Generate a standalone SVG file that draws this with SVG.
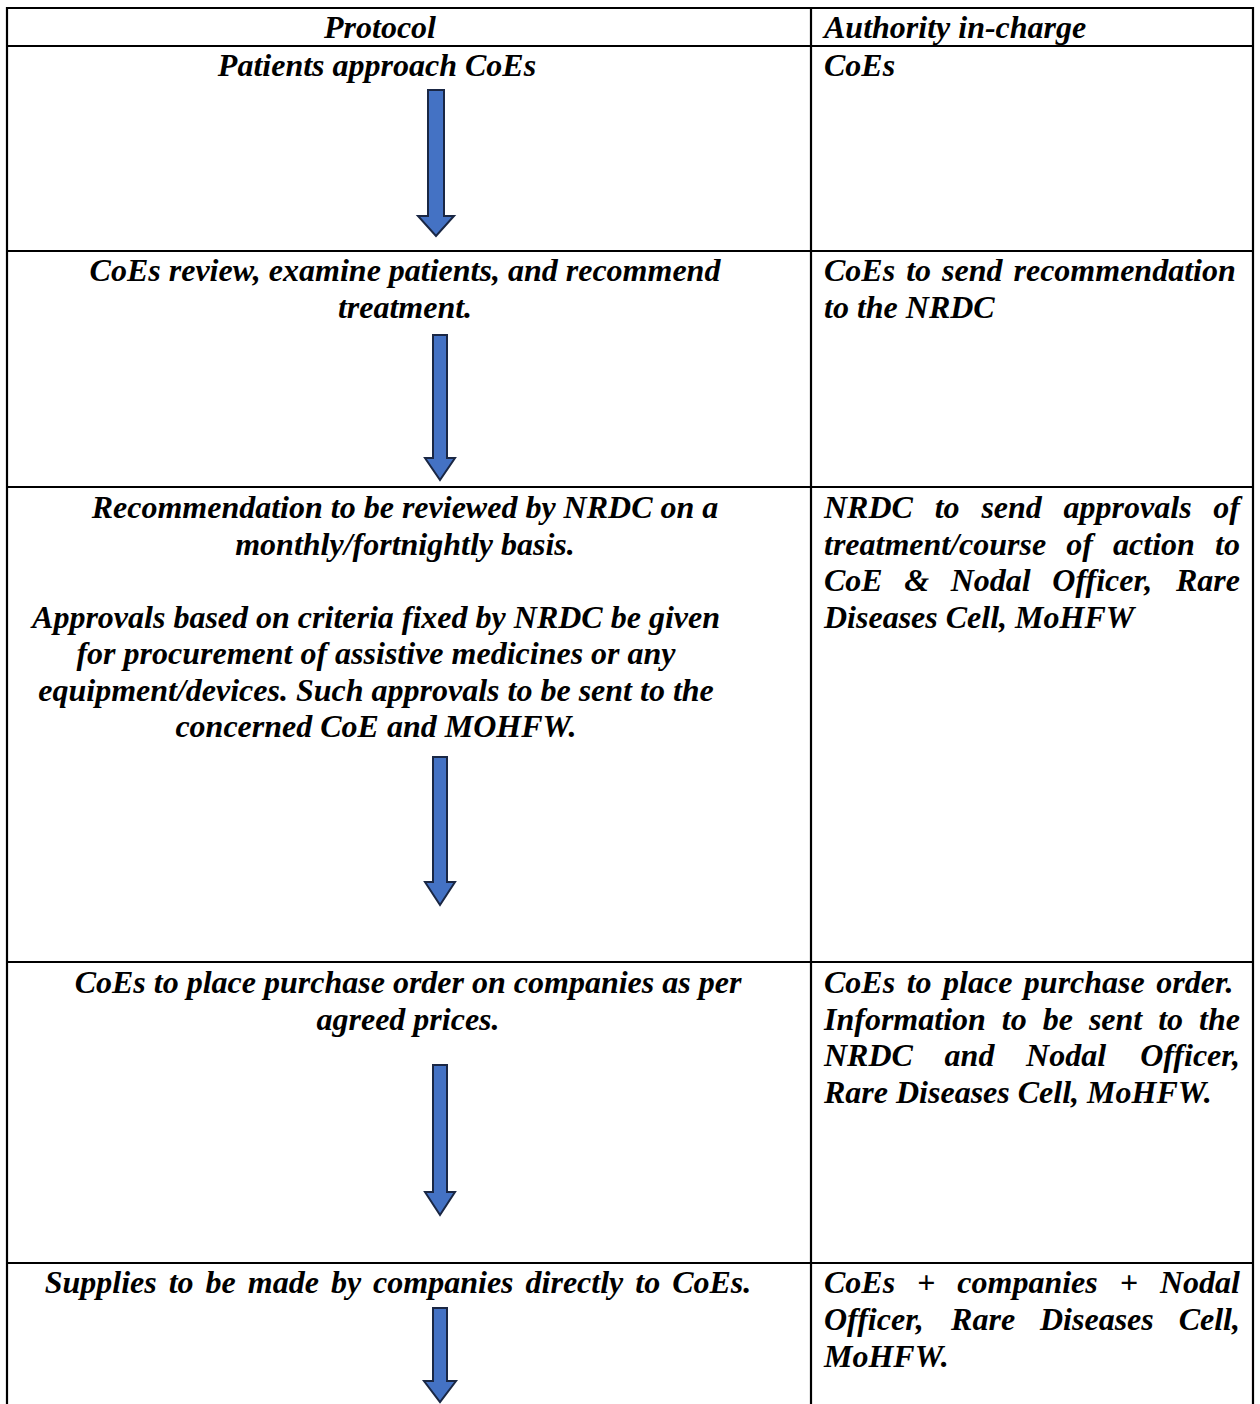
<svg xmlns="http://www.w3.org/2000/svg" width="1260" height="1404" viewBox="0 0 1260 1404">
<style>
.t{font-family:"Liberation Serif","Times New Roman",serif;font-size:32px;font-weight:bold;font-style:italic;fill:#000}
.c{text-anchor:middle}
.e{text-anchor:end}
.grid line{stroke:#000;stroke-width:2.2}
.arrow{fill:#4472C4;stroke:#1a2744;stroke-width:2;stroke-linejoin:miter}
</style>
<rect x="0" y="0" width="1260" height="1404" fill="#fff"/>
<g id="table-grid" class="grid">
<line x1="6" y1="8" x2="1254" y2="8"/>
<line x1="6" y1="46" x2="1254" y2="46"/>
<line x1="6" y1="251" x2="1254" y2="251"/>
<line x1="6" y1="487" x2="1254" y2="487"/>
<line x1="6" y1="962" x2="1254" y2="962"/>
<line x1="6" y1="1263" x2="1254" y2="1263"/>
<line x1="7" y1="7" x2="7" y2="1404"/>
<line x1="811" y1="7" x2="811" y2="1404"/>
<line x1="1253" y1="7" x2="1253" y2="1404"/>
</g>
<g id="header">
<text class="t c" x="380" y="38">Protocol</text>
<text class="t" x="824" y="38">Authority in-charge</text>
</g>
<g id="step1">
<text class="t c" x="377" y="76">Patients approach CoEs</text>
<text class="t" x="824" y="76">CoEs</text>
</g>
<g id="step2">
<text class="t c" x="405" y="281">CoEs review, examine patients, and recommend</text>
<text class="t c" x="405" y="317.5">treatment.</text>
<text class="t" x="824" y="281" word-spacing="3">CoEs to send recommendation</text>
<text class="t" x="824" y="317.5">to the NRDC</text>
</g>
<g id="step3">
<text class="t c" x="405" y="518">Recommendation to be reviewed by NRDC on a</text>
<text class="t c" x="405" y="554.5">monthly/fortnightly basis.</text>
<text class="t c" x="376" y="627.5">Approvals based on criteria fixed by NRDC be given</text>
<text class="t c" x="376" y="664">for procurement of assistive medicines or any</text>
<text class="t c" x="376" y="700.5">equipment/devices. Such approvals to be sent to the</text>
<text class="t c" x="376" y="737">concerned CoE and MOHFW.</text>
<text class="t" x="824" y="518">NRDC</text>
<text class="t" x="934.7" y="518">to</text>
<text class="t" x="981.4" y="518">send</text>
<text class="t" x="1063.6" y="518">approvals</text>
<text class="t e" x="1240" y="518">of</text>
<text class="t" x="824" y="554.5">treatment/course</text>
<text class="t" x="1066.3" y="554.5">of</text>
<text class="t" x="1113.1" y="554.5">action</text>
<text class="t e" x="1240" y="554.5">to</text>
<text class="t" x="824" y="591">CoE</text>
<text class="t" x="904.3" y="591">&amp;</text>
<text class="t" x="950.7" y="591">Nodal</text>
<text class="t" x="1052.3" y="591">Officer,</text>
<text class="t e" x="1240" y="591">Rare</text>
<text class="t" x="824" y="627.5">Diseases Cell, MoHFW</text>
</g>
<g id="step4">
<text class="t c" x="408" y="993">CoEs to place purchase order on companies as per</text>
<text class="t c" x="408" y="1029.5">agreed prices.</text>
<text class="t" x="824" y="993" word-spacing="3.5">CoEs to place purchase order.</text>
<text class="t" x="824" y="1029.5">Information</text>
<text class="t" x="1001.8" y="1029.5">to</text>
<text class="t" x="1042.7" y="1029.5">be</text>
<text class="t" x="1088.9" y="1029.5">sent</text>
<text class="t" x="1158.2" y="1029.5">to</text>
<text class="t e" x="1240" y="1029.5">the</text>
<text class="t" x="824" y="1066">NRDC</text>
<text class="t" x="944.6" y="1066">and</text>
<text class="t" x="1026.1" y="1066">Nodal</text>
<text class="t e" x="1240" y="1066">Officer,</text>
<text class="t" x="824" y="1102.5">Rare Diseases Cell, MoHFW.</text>
</g>
<g id="step5">
<text class="t c" x="398" y="1293" word-spacing="4">Supplies to be made by companies directly to CoEs.</text>
<text class="t" x="824" y="1293">CoEs</text>
<text class="t" x="917.1" y="1293">+</text>
<text class="t" x="957.3" y="1293">companies</text>
<text class="t" x="1119.7" y="1293">+</text>
<text class="t e" x="1240" y="1293">Nodal</text>
<text class="t" x="824" y="1330">Officer,</text>
<text class="t" x="951.1" y="1330">Rare</text>
<text class="t" x="1040" y="1330">Diseases</text>
<text class="t e" x="1240" y="1330">Cell,</text>
<text class="t" x="824" y="1367">MoHFW.</text>
</g>
<g id="connectors">
<path class="arrow" d="M428 90 H444 V216 H454 L436 236 L418 216 H428 Z"/>
<path class="arrow" d="M433 335 H447 V458 H455 L440 480 L425 458 H433 Z"/>
<path class="arrow" d="M433 757 H447 V882 H455 L440 905 L425 882 H433 Z"/>
<path class="arrow" d="M433 1065 H447 V1192 H455 L440 1215 L425 1192 H433 Z"/>
<path class="arrow" d="M433 1308 H447 V1381 H456 L440 1402 L424 1381 H433 Z"/>
</g>
</svg>
